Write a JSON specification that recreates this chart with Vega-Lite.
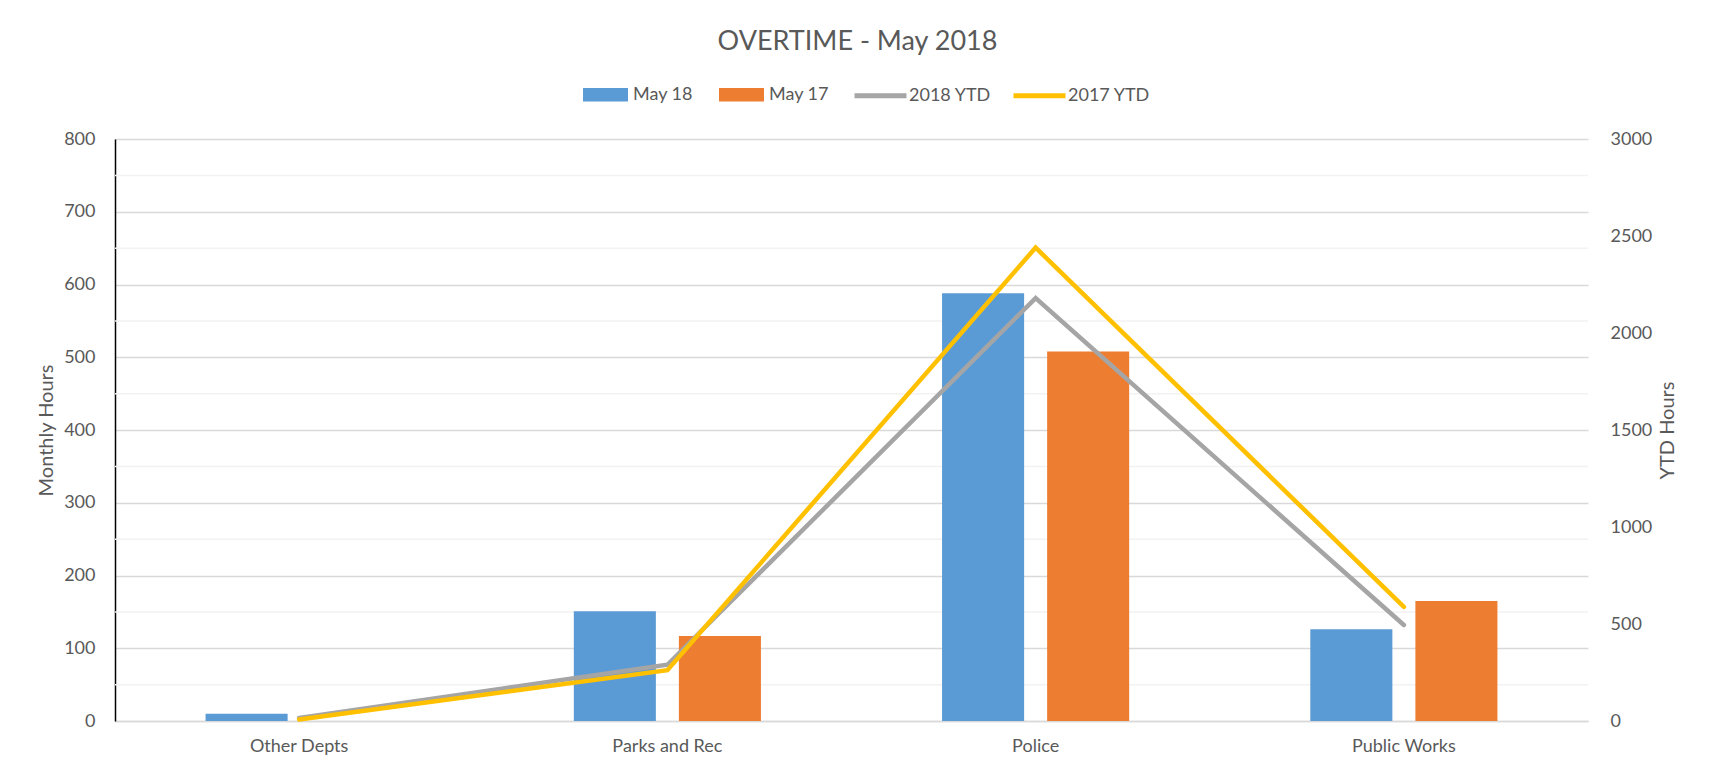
{
  "$schema": "https://vega.github.io/schema/vega-lite/v6.json",
  "width": 1473,
  "height": 582,
  "autosize": {"type": "none"},
  "padding": {"left": 115, "top": 139, "right": 126, "bottom": 54},
  "background": "white",
  "title": {
    "text": "OVERTIME - May 2018",
    "font": "Lato",
    "fontSize": 27,
    "fontWeight": "normal",
    "color": "#595959",
    "anchor": "middle",
    "frame": "group",
    "baseline": "alphabetic",
    "offset": -10,
    "dx": 6
  },
  "datasets": {
    "bars": [
      {"dept": "Other Depts", "series": "May 18", "hours": 10},
      {"dept": "Other Depts", "series": "May 17", "hours": 0},
      {"dept": "Parks and Rec", "series": "May 18", "hours": 151},
      {"dept": "Parks and Rec", "series": "May 17", "hours": 117},
      {"dept": "Police", "series": "May 18", "hours": 588},
      {"dept": "Police", "series": "May 17", "hours": 508},
      {"dept": "Public Works", "series": "May 18", "hours": 126},
      {"dept": "Public Works", "series": "May 17", "hours": 165}
    ],
    "ytd2018": [
      {"dept": "Other Depts", "ytd": 15},
      {"dept": "Parks and Rec", "ytd": 290},
      {"dept": "Police", "ytd": 2180},
      {"dept": "Public Works", "ytd": 495}
    ],
    "ytd2017": [
      {"dept": "Other Depts", "ytd": 8},
      {"dept": "Parks and Rec", "ytd": 262},
      {"dept": "Police", "ytd": 2440},
      {"dept": "Public Works", "ytd": 588}
    ],
    "minor": [
      {"v": 50}, {"v": 150}, {"v": 250}, {"v": 350}, {"v": 450}, {"v": 550}, {"v": 650}, {"v": 750}
    ]
  },
  "config": {
    "view": {"stroke": null},
    "font": "Lato",
    "axis": {
      "labelFont": "Lato",
      "labelFontSize": 18,
      "labelColor": "#595959",
      "titleFont": "Lato",
      "titleFontSize": 20,
      "titleFontWeight": "normal",
      "titleColor": "#595959",
      "ticks": false
    },
    "legend": {
      "labelFont": "Lato",
      "labelFontSize": 18,
      "labelColor": "#595959"
    }
  },
  "layer": [
    {
      "layer": [
        {
          "data": {"name": "minor"},
          "mark": {"type": "rule", "color": "#f2f2f2", "strokeWidth": 1.5},
          "encoding": {
            "y": {"field": "v", "type": "quantitative"}
          }
        },
        {
          "data": {"name": "bars"},
          "mark": {"type": "bar"},
          "encoding": {
            "x": {
              "field": "dept",
              "type": "nominal",
              "sort": ["Other Depts", "Parks and Rec", "Police", "Public Works"],
              "scale": {"paddingInner": 0, "paddingOuter": 0},
              "axis": {
                "title": null,
                "labelAngle": 0,
                "labelPadding": 16,
                "domainColor": "#d9d9d9",
                "domainWidth": 1.5,
                "grid": false
              }
            },
            "xOffset": {
              "field": "series",
              "type": "nominal",
              "sort": ["May 18", "May 17"],
              "scale": {"domain": ["May 18", "May 17"], "paddingInner": 0.219, "paddingOuter": 0.862}
            },
            "y": {
              "field": "hours",
              "type": "quantitative",
              "scale": {"domain": [0, 800]},
              "axis": {
                "orient": "left",
                "title": "Monthly Hours",
                "values": [0, 100, 200, 300, 400, 500, 600, 700, 800],
                "format": "d",
                "grid": true,
                "gridColor": "#d9d9d9",
                "gridWidth": 1.5,
                "domain": true,
                "domainColor": "#000000",
                "domainWidth": 1.5,
                "labelPadding": 20,
                "titlePadding": 7
              }
            },
            "fill": {
              "field": "series",
              "type": "nominal",
              "scale": {"domain": ["May 18", "May 17"], "range": ["#5B9BD5", "#ED7D31"]},
              "legend": {
                "title": null,
                "orient": "none",
                "direction": "horizontal",
                "legendX": 468,
                "legendY": -67,
                "symbolType": "M-1,-0.295H1V0.295H-1Z",
                "symbolSize": 2025,
                "symbolStrokeWidth": 0,
                "labelOffset": 5,
                "columnPadding": 26
              }
            }
          }
        }
      ]
    },
    {
      "layer": [
        {
          "data": {"name": "ytd2018"},
          "mark": {"type": "line", "strokeWidth": 4.5, "strokeCap": "round", "strokeJoin": "miter"},
          "encoding": {
            "x": {"field": "dept", "type": "nominal", "sort": ["Other Depts", "Parks and Rec", "Police", "Public Works"]},
            "y": {
              "field": "ytd",
              "type": "quantitative",
              "scale": {"domain": [0, 3000]},
              "axis": {
                "orient": "right",
                "title": "YTD Hours",
                "values": [0, 500, 1000, 1500, 2000, 2500, 3000],
                "format": "d",
                "grid": false,
                "domain": false,
                "labelPadding": 22,
                "titlePadding": 26,
                "titleAngle": 270
              }
            },
            "stroke": {
              "datum": "2018 YTD",
              "type": "nominal",
              "scale": {"domain": ["2018 YTD", "2017 YTD"], "range": ["#A5A5A5", "#FFC000"]},
              "legend": {
                "title": null,
                "orient": "none",
                "direction": "horizontal",
                "legendX": 737,
                "legendY": -72,
                "symbolType": "stroke",
                "symbolSize": 2700,
                "symbolStrokeWidth": 5,
                "labelOffset": 0,
                "columnPadding": 12
              }
            }
          }
        },
        {
          "data": {"name": "ytd2017"},
          "mark": {"type": "line", "strokeWidth": 4.5, "strokeCap": "round", "strokeJoin": "miter"},
          "encoding": {
            "x": {"field": "dept", "type": "nominal", "sort": ["Other Depts", "Parks and Rec", "Police", "Public Works"]},
            "y": {"field": "ytd", "type": "quantitative"},
            "stroke": {"datum": "2017 YTD", "type": "nominal"}
          }
        }
      ]
    }
  ],
  "resolve": {"scale": {"y": "independent"}, "axis": {"y": "independent"}}
}
